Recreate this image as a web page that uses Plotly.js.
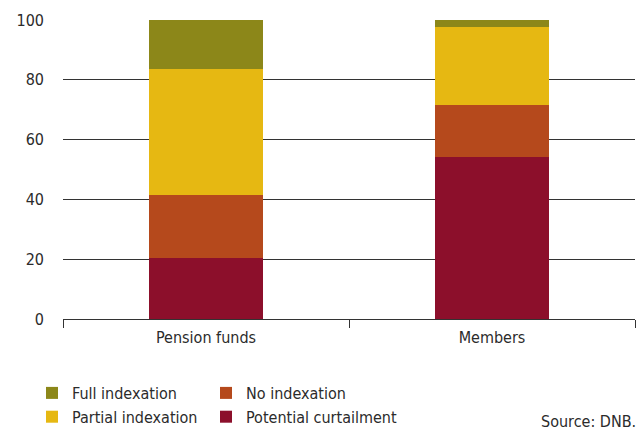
<!DOCTYPE html>
<html>
<head>
<meta charset="utf-8">
<script src="https://cdn.plot.ly/plotly-3.0.1.min.js"></script>
<style>html,body{margin:0;padding:0;background:#fff;}#chart{width:638px;height:430px;}</style>
</head>
<body>
<div id="chart"></div>
<script>
const categories = ["Pension funds", "Members"];
const potentialCurtailment = [20.5, 54.2];
const noIndexation = [20.9, 17.4];
const partialIndexation = [42.2, 26.1];
const fullIndexation = [16.4, 2.3];
const yTicks = [0, 20, 40, 60, 80, 100];

const FONT = "DejaVu Sans Condensed, sans-serif";
const FS = 16;
const TXT = "#2b2b2b";

const traces = [
  {name: "Potential curtailment", y: potentialCurtailment, color: "#8C0F2B", legend: "legend2"},
  {name: "No indexation", y: noIndexation, color: "#B5491C", legend: "legend2"},
  {name: "Partial indexation", y: partialIndexation, color: "#E6B812", legend: "legend"},
  {name: "Full indexation", y: fullIndexation, color: "#8C8719", legend: "legend"}
].map((t, i) => ({
  type: "bar",
  x: categories,
  y: t.y,
  name: t.name,
  legend: t.legend,
  legendgroup: "g" + i,
  marker: {color: t.color, line: {width: 0}},
  width: 0.4,
  hoverinfo: "skip"
}));

const legendBase = {
  orientation: "v",
  traceorder: "reversed",
  tracegroupgap: 3,
  font: {family: FONT, size: FS, color: TXT},
  bgcolor: "rgba(0,0,0,0)",
  xanchor: "left",
  yanchor: "top",
  yref: "container",
  xref: "container",
  itemwidth: 30
};

const layout = {
  width: 638,
  height: 430,
  margin: {l: 63, r: 3, t: 20, b: 111, autoexpand: false},
  paper_bgcolor: "#fff",
  plot_bgcolor: "#fff",
  barmode: "stack",
  showlegend: true,
  font: {family: FONT, size: FS, color: TXT},
  xaxis: {
    type: "category",
    showline: true,
    linecolor: "#333",
    linewidth: 1,
    ticks: "outside",
    tickson: "boundaries",
    ticklen: 8,
    tickcolor: "#333",
    showgrid: false,
    tickangle: 0,
    ticklabelstandoff: 4,
    tickfont: {family: FONT, size: FS, color: TXT},
    fixedrange: true
  },
  yaxis: {
    range: [0, 100],
    tickvals: yTicks,
    ticktext: yTicks.map(String),
    showgrid: true,
    gridcolor: "#333",
    gridwidth: 1,
    zeroline: false,
    showline: false,
    ticks: "",
    ticklabelstandoff: 18,
    tickfont: {family: FONT, size: FS, color: TXT},
    fixedrange: true
  },
  legend: Object.assign({}, legendBase, {x: 32/638, y: 1 - 376/430}),
  legend2: Object.assign({}, legendBase, {x: 206/638, y: 1 - 376/430}),
  annotations: [{
    text: "Source: DNB.",
    xref: "paper", yref: "paper",
    x: 1.005, xanchor: "right",
    y: -0.342, yanchor: "middle",
    showarrow: false,
    font: {family: FONT, size: FS, color: TXT}
  }]
};

Plotly.newPlot("chart", traces, layout, {displayModeBar: false, staticPlot: true});
</script>
</body>
</html>
